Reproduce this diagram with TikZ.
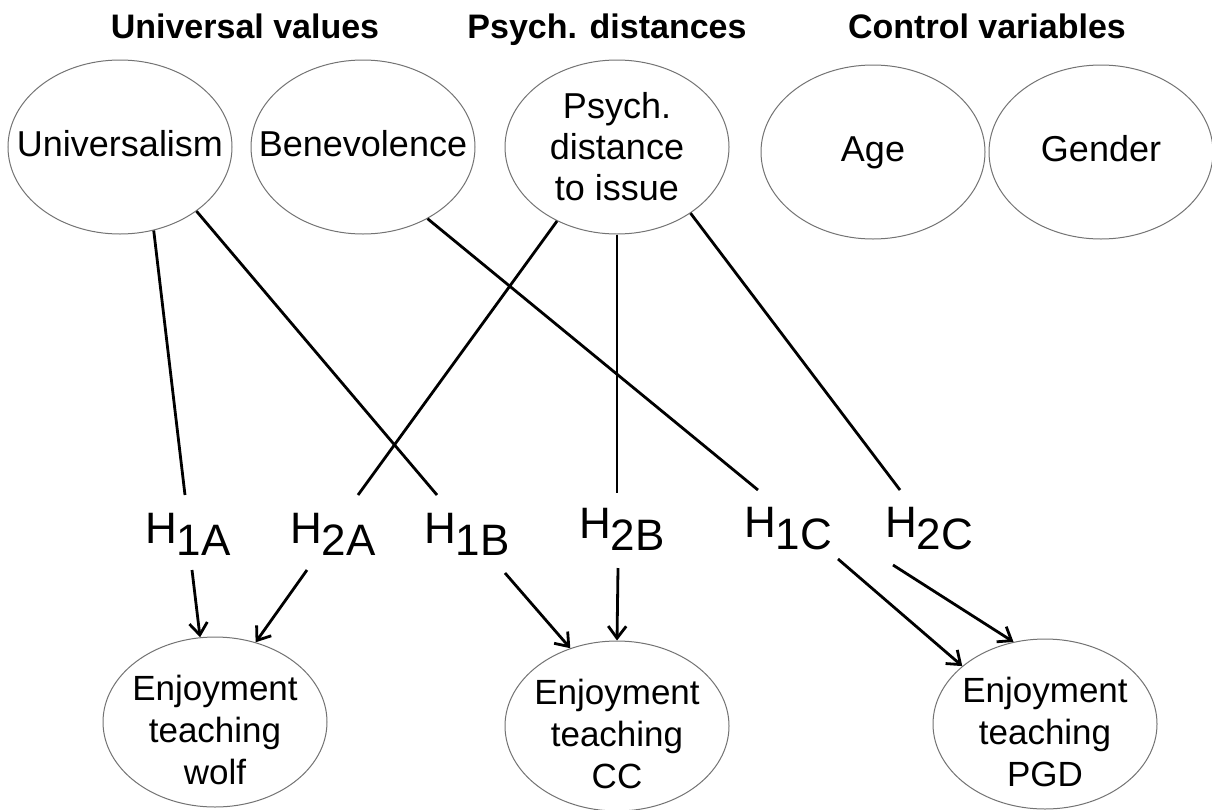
\documentclass[tikz,border=0pt]{standalone}
\usepackage{fontspec}
\setmainfont{Liberation Sans}
\usetikzlibrary{shapes.geometric,arrows.meta,calc}
\begin{document}
\begin{tikzpicture}[x=1pt,y=-1pt,
  ell/.style={ellipse, draw=black!55, line width=1pt, minimum width=224pt,
    minimum height=174pt, inner sep=0pt},
  bell/.style={ell, minimum width=224pt, minimum height=170pt},
  lbl/.style={font=\fontsize{36}{41}\selectfont, align=center, inner sep=0pt},
  slbl/.style={lbl, text height=26pt, text depth=7pt},
  blbl/.style={font=\fontsize{35}{42}\selectfont, align=center, inner sep=0pt, yshift=-8pt},
  hdr/.style={font=\fontsize{34}{38}\selectfont\bfseries, anchor=base, inner sep=0pt},
  hyp/.style={font=\fontsize{44}{48}\selectfont, inner sep=0pt, anchor=base west},
  conn/.style={line width=2.8pt, black},
  arr/.style={conn, -{Straight Barb[length=12pt,width=18pt,line width=2.8pt]}}
]
\useasboundingbox (0,0) rectangle (1212,809);
\fill[white] (0,0) rectangle (1212,809);

% headers
\node[hdr] (hUV) at (245,38) {Universal values};
\node[hdr] (hPD) at (607,38) {Psych. distances};
\node[hdr] (hCV) at (987,38) {Control variables};

% top ellipses
\node[ell, label={[slbl]center:Universalism}] (univ) at (120,147) {};
\node[ell, label={[slbl]center:Benevolence}] (bene) at (363,147) {};
\node[ell, label={[lbl]center:{Psych.\\distance\\to issue}}] (psy) at (617,147) {};
\node[ell, label={[slbl]center:Age}] (age) at (873,152) {};
\node[ell, label={[slbl]center:Gender}] (gen) at (1101,152) {};

% bottom ellipses
\node[bell, label={[blbl]center:{Enjoyment\\teaching\\wolf}}] (wolf) at (215,722) {};
\node[bell, label={[blbl]center:{Enjoyment\\teaching\\CC}}] (cc) at (617,726) {};
\node[bell, label={[blbl]center:{Enjoyment\\teaching\\PGD}}] (pgd) at (1045,724) {};

% hypothesis labels
\node[hyp] (h1a) at (145,543) {H\raisebox{-12pt}{1A}};
\node[hyp] (h2a) at (290,543) {H\raisebox{-12pt}{2A}};
\node[hyp] (h1b) at (424,543) {H\raisebox{-12pt}{1B}};
\node[hyp] (h2b) at (579,538) {H\raisebox{-12pt}{2B}};
\node[hyp] (h1c) at (744,537) {H\raisebox{-12pt}{1C}};
\node[hyp] (h2c) at (885,537) {H\raisebox{-12pt}{2C}};

% lines from predictors to hypotheses
\draw[conn] (univ.-68) -- ($(h1a.base west)+(40,-48)$);
\draw[conn] (univ.-40) -- ($(h1b.base west)+(13,-48)$);
\draw[conn] (bene.-48) -- ($(h1c.base west)+(14,-47)$);
\draw[conn] (psy.-129) -- ($(h2a.base west)+(68,-48)$);
\draw[conn] (psy.-90) -- ($(h2b.base west)+(38,-45)$);
\draw[conn] (psy.-42) -- ($(h2c.base west)+(15,-47)$);

% arrows from hypotheses to outcomes
\draw[arr] ($(h1a.base west)+(47,27)$) -- (wolf.100);
\draw[arr] ($(h2a.base west)+(17,27)$) -- (wolf.63);
\draw[arr] ($(h1b.base west)+(81,30)$) -- (cc.121);
\draw[arr] ($(h2b.base west)+(39,30)$) -- (cc.90);
\draw[arr] ($(h1c.base west)+(94,22)$) -- (pgd.145);
\draw[arr] ($(h2c.base west)+(8,28)$) -- (pgd.111);
\end{tikzpicture}
\end{document}
